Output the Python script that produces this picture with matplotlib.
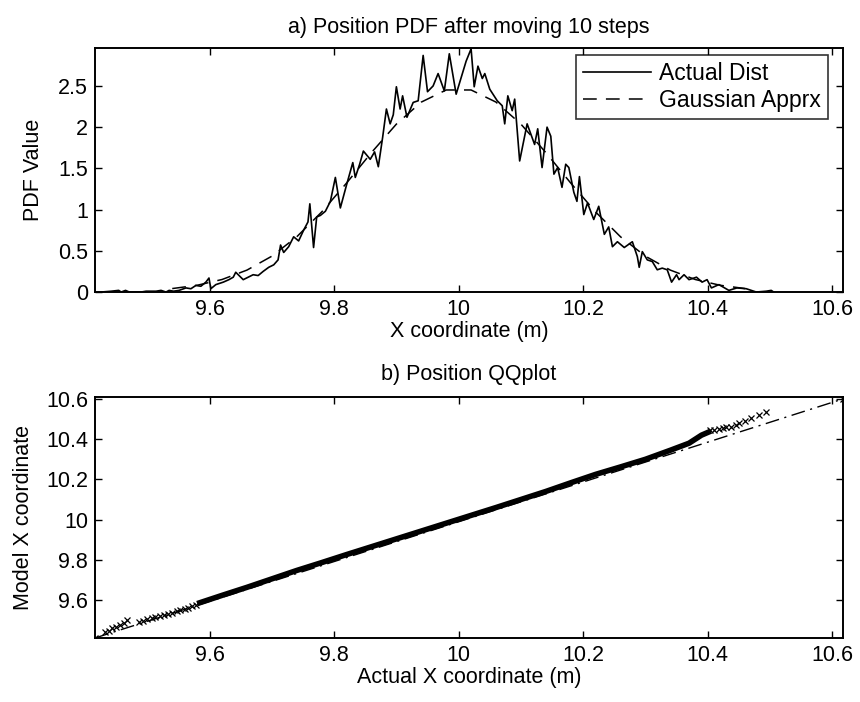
import matplotlib
matplotlib.use("Agg")
import matplotlib.pyplot as plt
from matplotlib.ticker import FormatStrFormatter

plt.rcParams['font.family'] = ['Liberation Sans', 'DejaVu Sans']

# a) histogram PDF of x after 10 steps (read off the figure)
pdf_x = [9.426, 9.442, 9.454, 9.458, 9.465, 9.471, 9.490, 9.498, 9.514, 9.522,
         9.530, 9.535, 9.542, 9.551, 9.562, 9.570, 9.578, 9.586, 9.594, 9.599,
         9.602, 9.610, 9.622, 9.631, 9.638, 9.642, 9.654, 9.662, 9.670, 9.678,
         9.686, 9.695, 9.703, 9.710, 9.714, 9.719, 9.727, 9.735, 9.743, 9.751,
         9.758, 9.761, 9.767, 9.772, 9.778, 9.786, 9.794, 9.802, 9.810, 9.820,
         9.830, 9.834, 9.841, 9.847, 9.858, 9.865, 9.871, 9.878, 9.884, 9.890,
         9.895, 9.900, 9.906, 9.910, 9.917, 9.927, 9.935, 9.943, 9.950, 9.959,
         9.967, 9.977, 9.985, 9.996, 10.004, 10.012, 10.020, 10.025, 10.031, 10.038,
         10.042, 10.050, 10.062, 10.070, 10.074, 10.079, 10.086, 10.090, 10.098, 10.110,
         10.122, 10.127, 10.134, 10.142, 10.148, 10.153, 10.159, 10.166, 10.172, 10.177,
         10.185, 10.190, 10.194, 10.201, 10.207, 10.217, 10.225, 10.234, 10.241, 10.247,
         10.255, 10.266, 10.279, 10.287, 10.290, 10.295, 10.303, 10.311, 10.319, 10.327,
         10.335, 10.342, 10.350, 10.354, 10.362, 10.370, 10.382, 10.391, 10.399, 10.406,
         10.418, 10.434, 10.447, 10.462, 10.478, 10.494, 10.502, 10.506]
pdf_y = [0.00, 0.01, 0.02, 0.00, 0.02, 0.00, 0.00, 0.01, 0.01, 0.02,
         0.00, 0.02, 0.01, 0.02, 0.05, 0.04, 0.08, 0.07, 0.12, 0.17,
         0.04, 0.09, 0.12, 0.15, 0.18, 0.24, 0.15, 0.18, 0.21, 0.20,
         0.25, 0.30, 0.33, 0.39, 0.57, 0.48, 0.55, 0.67, 0.62, 0.75,
         0.85, 1.07, 0.54, 0.91, 0.93, 0.98, 1.10, 1.39, 1.02, 1.30,
         1.57, 1.39, 1.55, 1.71, 1.61, 1.70, 1.52, 1.88, 2.22, 2.04,
         2.15, 2.49, 2.22, 2.38, 2.12, 2.30, 2.32, 2.87, 2.43, 2.50,
         2.65, 2.44, 2.89, 2.40, 2.60, 2.80, 2.95, 2.49, 2.74, 2.59,
         2.65, 2.46, 2.32, 2.26, 2.04, 2.38, 2.20, 2.34, 1.59, 2.04,
         1.79, 1.98, 1.51, 2.00, 1.89, 1.43, 1.51, 1.27, 1.55, 1.51,
         1.21, 1.10, 1.40, 0.94, 1.08, 0.88, 1.04, 0.70, 0.79, 0.55,
         0.61, 0.54, 0.61, 0.43, 0.30, 0.49, 0.39, 0.37, 0.27, 0.29,
         0.27, 0.12, 0.21, 0.15, 0.21, 0.15, 0.18, 0.12, 0.15, 0.05,
         0.09, 0.02, 0.05, 0.04, 0.00, 0.01, 0.02, 0.00]

# gaussian approximation, values
gauss_x = [9.54, 9.58, 9.62, 9.66, 9.70, 9.74, 9.78, 9.82, 9.86, 9.90, 9.94, 9.98,
           10.02, 10.06, 10.10, 10.14, 10.18, 10.22, 10.26, 10.30, 10.34, 10.38, 10.42, 10.46]
gauss_y = [0.042, 0.082, 0.152, 0.266, 0.435, 0.670, 0.971, 1.322, 1.692, 2.037, 2.304, 2.451,
           2.451, 2.304, 2.037, 1.692, 1.322, 0.971, 0.670, 0.435, 0.266, 0.152, 0.082, 0.042]

# b) QQ plot: sparse tail markers and the dense band in the middle
tail_actual = [9.416, 9.432, 9.438, 9.444, 9.449, 9.456, 9.462, 9.467, 9.486, 9.493,
               9.500, 9.507, 9.513, 9.520, 9.527, 9.533, 9.540, 9.547, 9.553, 9.560,
               9.566, 9.572, 9.578,
               10.403, 10.410, 10.418, 10.425, 10.430, 10.437, 10.445, 10.450, 10.460,
               10.470, 10.482, 10.494, 10.617]
tail_model = [9.411, 9.440, 9.447, 9.460, 9.465, 9.478, 9.485, 9.500, 9.490, 9.497,
              9.503, 9.510, 9.515, 9.520, 9.526, 9.531, 9.537, 9.543, 9.548, 9.555,
              9.562, 9.568, 9.575,
              10.446, 10.445, 10.452, 10.455, 10.460, 10.462, 10.470, 10.480, 10.490,
              10.505, 10.520, 10.535, 10.600]
band_actual = [9.58, 9.62, 9.66, 9.70, 9.74, 9.78, 9.82, 9.86, 9.90, 9.94, 9.98,
               10.02, 10.06, 10.10, 10.14, 10.18, 10.22, 10.26, 10.30, 10.34, 10.37, 10.39, 10.405]
band_model = [9.582, 9.623, 9.663, 9.705, 9.747, 9.786, 9.826, 9.865, 9.904, 9.943, 9.982,
              10.021, 10.060, 10.100, 10.140, 10.183, 10.225, 10.262, 10.300, 10.345, 10.380, 10.420, 10.440]
ref_x = [9.416, 10.617]
ref_y = [9.411, 10.600]

fig = plt.figure(figsize=(8.6, 7.02), dpi=100)
ax1 = fig.add_axes([0.1105, 0.584, 0.8695, 0.3476])
ax2 = fig.add_axes([0.1105, 0.0912, 0.8695, 0.3433])

fs = 15.5

ax1.plot(pdf_x, pdf_y, color='black', lw=1.2, label='Actual Dist')
ax1.plot(gauss_x, gauss_y, color='black', lw=1.1, dashes=(9, 6), label='Gaussian Apprx')
ax1.set_xlim(9.416, 10.617)
ax1.set_ylim(0, 2.96)
ax1.set_xticks([9.6, 9.8, 10, 10.2, 10.4, 10.6])
ax1.set_yticks([0, 0.5, 1, 1.5, 2, 2.5])
ax1.set_title('a) Position PDF after moving 10 steps', fontsize=fs, pad=11)
ax1.set_xlabel('X coordinate (m)', fontsize=fs, labelpad=1)
ax1.set_ylabel('PDF Value', fontsize=fs, labelpad=10)
leg = ax1.legend(loc='upper right', bbox_to_anchor=(0.963, 0.9217),
                 bbox_transform=fig.transFigure, fontsize=16.5, frameon=True,
                 fancybox=False, edgecolor='black', handlelength=3.0,
                 borderpad=0.3, labelspacing=0.2, handletextpad=0.35,
                 borderaxespad=0)
leg.get_frame().set_linewidth(1.2)

ax2.plot(ref_x, ref_y, color='black', lw=1.0, dashes=(10, 4, 1.5, 4))
ax2.plot(band_actual, band_model, color='black', lw=4.0, solid_capstyle='butt')
ax2.plot(tail_actual, tail_model, 'x', color='black', ms=5, mew=0.9)
ax2.set_xlim(9.416, 10.617)
ax2.set_ylim(9.411, 10.61)
ax2.set_xticks([9.6, 9.8, 10, 10.2, 10.4, 10.6])
ax2.set_yticks([9.6, 9.8, 10, 10.2, 10.4, 10.6])
ax2.set_title('b) Position QQplot', fontsize=fs, pad=12)
ax2.set_xlabel('Actual X coordinate (m)', fontsize=fs, labelpad=1)
ax2.set_ylabel('Model X coordinate', fontsize=fs, labelpad=9)

for ax in (ax1, ax2):
    ax.xaxis.set_major_formatter(FormatStrFormatter('%g'))
    ax.yaxis.set_major_formatter(FormatStrFormatter('%g'))
    ax.tick_params(direction='in', top=True, right=True, length=5, width=1,
                   labelsize=fs, pad=5)
    for s in ax.spines.values():
        s.set_linewidth(1.4)

fig.savefig('out.png', dpi=100)
